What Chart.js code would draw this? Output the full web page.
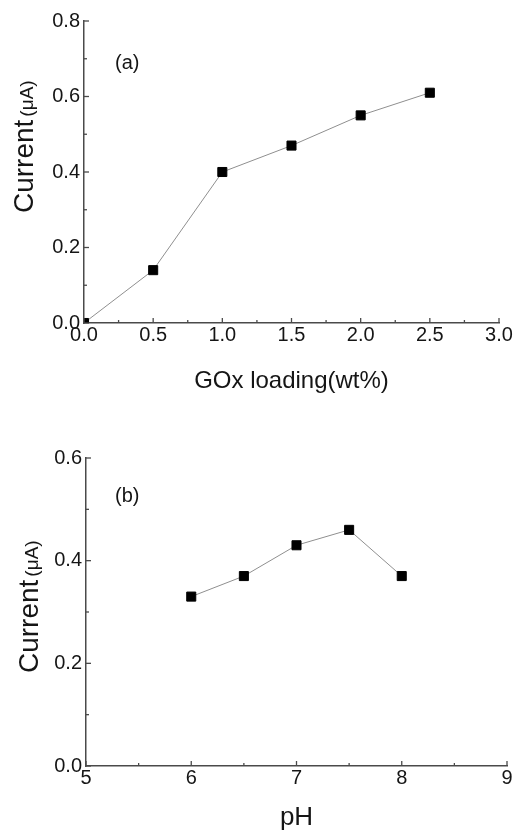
<!DOCTYPE html>
<html><head><meta charset="utf-8">
<script src="https://cdn.jsdelivr.net/npm/chart.js@4/dist/chart.umd.min.js"></script>
<style>
html,body{margin:0;padding:0;background:#fff;width:518px;height:833px;overflow:hidden}
canvas{position:absolute;left:0}
</style></head>
<body>
<canvas id="ca" width="518" height="420" style="top:0;width:518px;height:420px"></canvas>
<canvas id="cb" width="518" height="413" style="top:420px;width:518px;height:413px"></canvas>
<script>
// ---- data ----
const goxLoading = [0, 0.5, 1.0, 1.5, 2.0, 2.5];
const currentA   = [0, 0.14, 0.40, 0.47, 0.55, 0.61];
const phValues   = [6, 6.5, 7, 7.5, 8];
const currentB   = [0.33, 0.37, 0.43, 0.46, 0.37];
const panelLabels = ['(a)', '(b)'];
const xTitles = ['GOx loading(wt%)', 'pH'];
const yTitleMain = 'Current';
const yTitleUnit = '(\u03bcA)';

const FONT = '"Liberation Sans", Arial, Helvetica, sans-serif';
const AXIS = '#4a4a4a';
const TEXT = '#151515';

const innerTicks = {
  id: 'innerTicks',
  afterDatasetsDraw(chart, args, o) {
    const ctx = chart.ctx, x = chart.scales.x, y = chart.scales.y;
    const ca = chart.chartArea;
    ctx.save();
    ctx.strokeStyle = AXIS;
    ctx.lineWidth = 1.3;
    const eps = 1e-9;
    for (let v = x.min; v <= x.max + eps; v += o.xMinor) {
      const px = x.getPixelForValue(v);
      const major = Math.abs(v / o.xMajor - Math.round(v / o.xMajor)) < 1e-6;
      const len = major ? 5 : 3;
      ctx.beginPath(); ctx.moveTo(px, ca.bottom); ctx.lineTo(px, ca.bottom - len); ctx.stroke();
    }
    for (let v = y.min; v <= y.max + eps; v += o.yMinor) {
      const py = y.getPixelForValue(v);
      const major = Math.abs(v / o.yMajor - Math.round(v / o.yMajor)) < 1e-6;
      const len = major ? 5 : 3;
      ctx.beginPath(); ctx.moveTo(ca.left, py); ctx.lineTo(ca.left + len, py); ctx.stroke();
    }
    // panel label
    ctx.fillStyle = TEXT;
    ctx.font = '20px ' + FONT;
    ctx.textBaseline = 'middle';
    ctx.textAlign = 'left';
    ctx.fillText(o.label, o.labelX, o.labelY);
    // y title (two font sizes)
    ctx.translate(o.ytX, o.ytY);
    ctx.rotate(-Math.PI / 2);
    ctx.textBaseline = 'alphabetic';
    ctx.font = '28px ' + FONT;
    ctx.fillText(yTitleMain, 0, 0);
    const w = ctx.measureText(yTitleMain).width;
    ctx.font = '19px ' + FONT;
    ctx.fillText(yTitleUnit, w + 3, 0);
    ctx.restore();
  }
};

function makeChart(id, xs, ys, cfg) {
  return new Chart(document.getElementById(id), {
    type: 'line',
    data: {
      datasets: [{
        data: xs.map((v, i) => ({x: v, y: ys[i]})),
        borderColor: '#8f8f8f',
        borderWidth: 1,
        pointStyle: 'rect',
        pointRadius: 6.4,
        pointBackgroundColor: '#000',
        pointBorderColor: '#000',
        pointBorderWidth: 1,
        tension: 0
      }]
    },
    plugins: [innerTicks],
    options: {
      responsive: false,
      animation: false,
      devicePixelRatio: 1,
      layout: {padding: cfg.padding},
      plugins: {
        legend: {display: false},
        tooltip: {enabled: false},
        innerTicks: cfg.ticks
      },
      scales: {
        x: {
          type: 'linear',
          min: cfg.xMin, max: cfg.xMax,
          afterFit(s) { s.height = cfg.xHeight; },
          ticks: {
            stepSize: cfg.xStep,
            padding: 0,
            color: TEXT,
            font: {family: FONT, size: 20},
            maxRotation: 0,
            callback: v => v.toFixed(cfg.xDec)
          },
          grid: {display: true, drawOnChartArea: false, drawTicks: false},
          border: {display: true, color: AXIS, width: 1.5},
          title: {
            display: true, text: cfg.xTitle, color: TEXT,
            font: {family: FONT, size: cfg.xTitleSize},
            padding: {top: 0, bottom: cfg.xTitlePad}
          }
        },
        y: {
          type: 'linear',
          min: cfg.yMin, max: cfg.yMax,
          afterFit(s) { s.width = cfg.yWidth; },
          ticks: {
            stepSize: 0.2,
            padding: 4,
            color: TEXT,
            font: {family: FONT, size: 20},
            callback: v => v.toFixed(1)
          },
          grid: {display: true, drawOnChartArea: false, drawTicks: false},
          border: {display: true, color: AXIS, width: 1.5}
        }
      }
    }
  });
}

makeChart('ca', goxLoading, currentA, {
  padding: {top: 21, right: 19, left: 0, bottom: 0},
  xMin: 0, xMax: 3, xStep: 0.5, xDec: 1,
  yMin: 0, yMax: 0.8,
  xHeight: 97, yWidth: 84,
  xTitle: xTitles[0], xTitleSize: 24, xTitlePad: 24,
  ticks: {xMajor: 0.5, xMinor: 0.25, yMajor: 0.2, yMinor: 0.1,
          label: panelLabels[0], labelX: 115, labelY: 63, ytX: 33, ytY: 213}
});

makeChart('cb', phValues, currentB, {
  padding: {top: 38, right: 11, left: 0, bottom: 0},
  xMin: 5, xMax: 9, xStep: 1, xDec: 0,
  yMin: 0, yMax: 0.6,
  xHeight: 67, yWidth: 86,
  xTitle: xTitles[1], xTitleSize: 26, xTitlePad: 0,
  ticks: {xMajor: 1, xMinor: 0.5, yMajor: 0.2, yMinor: 0.1,
          label: panelLabels[1], labelX: 115, labelY: 76, ytX: 38, ytY: 253}
});
</script>
</body></html>
